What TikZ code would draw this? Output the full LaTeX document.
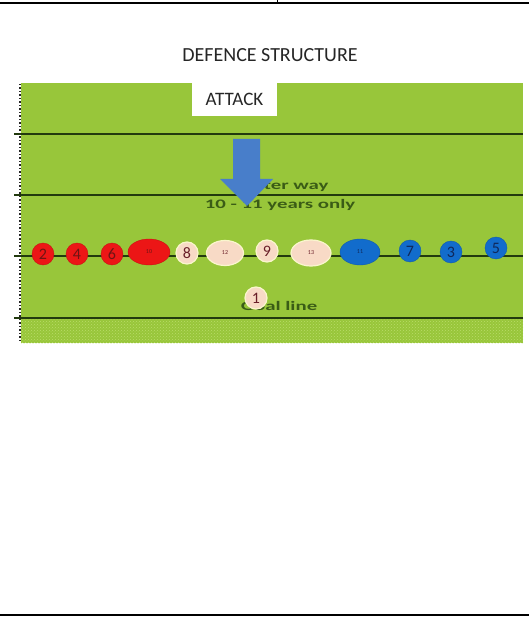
\documentclass[tikz,border=0pt]{standalone}
\usepackage{fontspec}
\setmainfont{Carlito}
\usetikzlibrary{patterns,shapes.geometric}
\definecolor{pitch}{RGB}{152,198,58}
\definecolor{pitchlight}{RGB}{185,220,105}
\definecolor{markline}{RGB}{34,58,14}
\definecolor{textgreen}{RGB}{58,92,22}
\definecolor{redteam}{RGB}{236,22,22}
\definecolor{redtext}{RGB}{110,20,20}
\definecolor{creamfill}{RGB}{248,218,198}
\definecolor{creamedge}{RGB}{250,246,205}
\definecolor{creamtext}{RGB}{105,30,40}
\definecolor{blueteam}{RGB}{18,108,204}
\definecolor{bluetext}{RGB}{15,40,90}
\definecolor{arrowblue}{RGB}{72,126,202}
\tikzset{
  player/.style={circle, minimum size=22pt, inner sep=0pt, font=\fontsize{16}{16}\selectfont},
  wide/.style={ellipse, minimum width=40pt, minimum height=26pt, inner sep=0pt, font=\fontsize{6}{6}\selectfont},
  red/.style={fill=redteam, draw=redteam!85!black, text=redtext},
  cream/.style={fill=creamfill, draw=creamedge, line width=1.2pt, text=creamtext},
  blue/.style={fill=blueteam, draw=blueteam!85!black, text=bluetext},
  fieldline/.style={draw=markline, line width=1.3pt},
  fieldtext/.style={text=textgreen, font=\bfseries\fontsize{13}{13}\selectfont, inner sep=0pt, xscale=1.6}
}
\begin{document}
\begin{tikzpicture}[x=1pt,y=-1pt]
  \useasboundingbox (0,0) rectangle (529,617);
  \fill[white] (0,0) rectangle (529,617);
  % page frame
  \draw[line width=2pt] (0,3) -- (529,3);
  \draw[line width=1pt] (277,0) -- (277,3);
  \draw[line width=1.5pt] (0,615) -- (529,615);
  % title
  \node[font=\fontsize{20}{20}\selectfont, text=black!85] (title) at (270,55) {DEFENCE STRUCTURE};
  % pitch
  \fill[pitch] (21,83) rectangle (523,343);
  \fill[pattern=crosshatch dots, pattern color=pitchlight] (21,318) rectangle (523,343);
  % touch line with dotted marks
  \draw[line width=1.5pt, dotted, black!85] (20,84) -- (20,343);
  % field lines
  \draw[fieldline] (14,134) -- (523,134);
  \draw[fieldline] (14,195) -- (523,195);
  \draw[fieldline] (14,256) -- (523,256);
  \draw[fieldline, line width=1.8pt] (14,318) -- (523,318);
  % labels on the pitch
  \node[fieldtext] (way) at (278,186) {Tighter way};
  \node[fieldtext] (age) at (280,205) {10 - 11 years only};
  \node[fieldtext] (goal) at (279,306) {Goal line};
  % attack arrow
  \fill[arrowblue] (233,139) -- (260,139) -- (260,179) -- (273,179) -- (247,206) -- (220,179) -- (233,179) -- cycle;
  % attack label
  \node[fill=white, minimum width=85pt, minimum height=33pt, inner sep=0pt,
        font=\fontsize{19}{19}\selectfont, text=black!85] (attack) at (234.5,99.5) {ATTACK};
  % players
  \node[player, red] (p2) at (43,254) {2};
  \node[player, red] (p4) at (77,254) {4};
  \node[player, red] (p6) at (112,254) {6};
  \node[wide, red, minimum width=42pt] (p10) at (149,252) {10};
  \node[player, cream] (p8) at (187,253) {8};
  \node[wide, cream, minimum width=37pt, minimum height=25pt] (p12) at (225,253) {12};
  \node[player, cream] (p9) at (267,251) {9};
  \node[wide, cream] (p13) at (311,253) {13};
  \node[wide, blue] (p11) at (360,252) {11};
  \node[player, blue] (p7) at (410,251) {7};
  \node[player, blue] (p3) at (451,252) {3};
  \node[player, blue] (p5) at (496,248) {5};
  \node[player, cream] (p1) at (256,298) {1};
\end{tikzpicture}
\end{document}
